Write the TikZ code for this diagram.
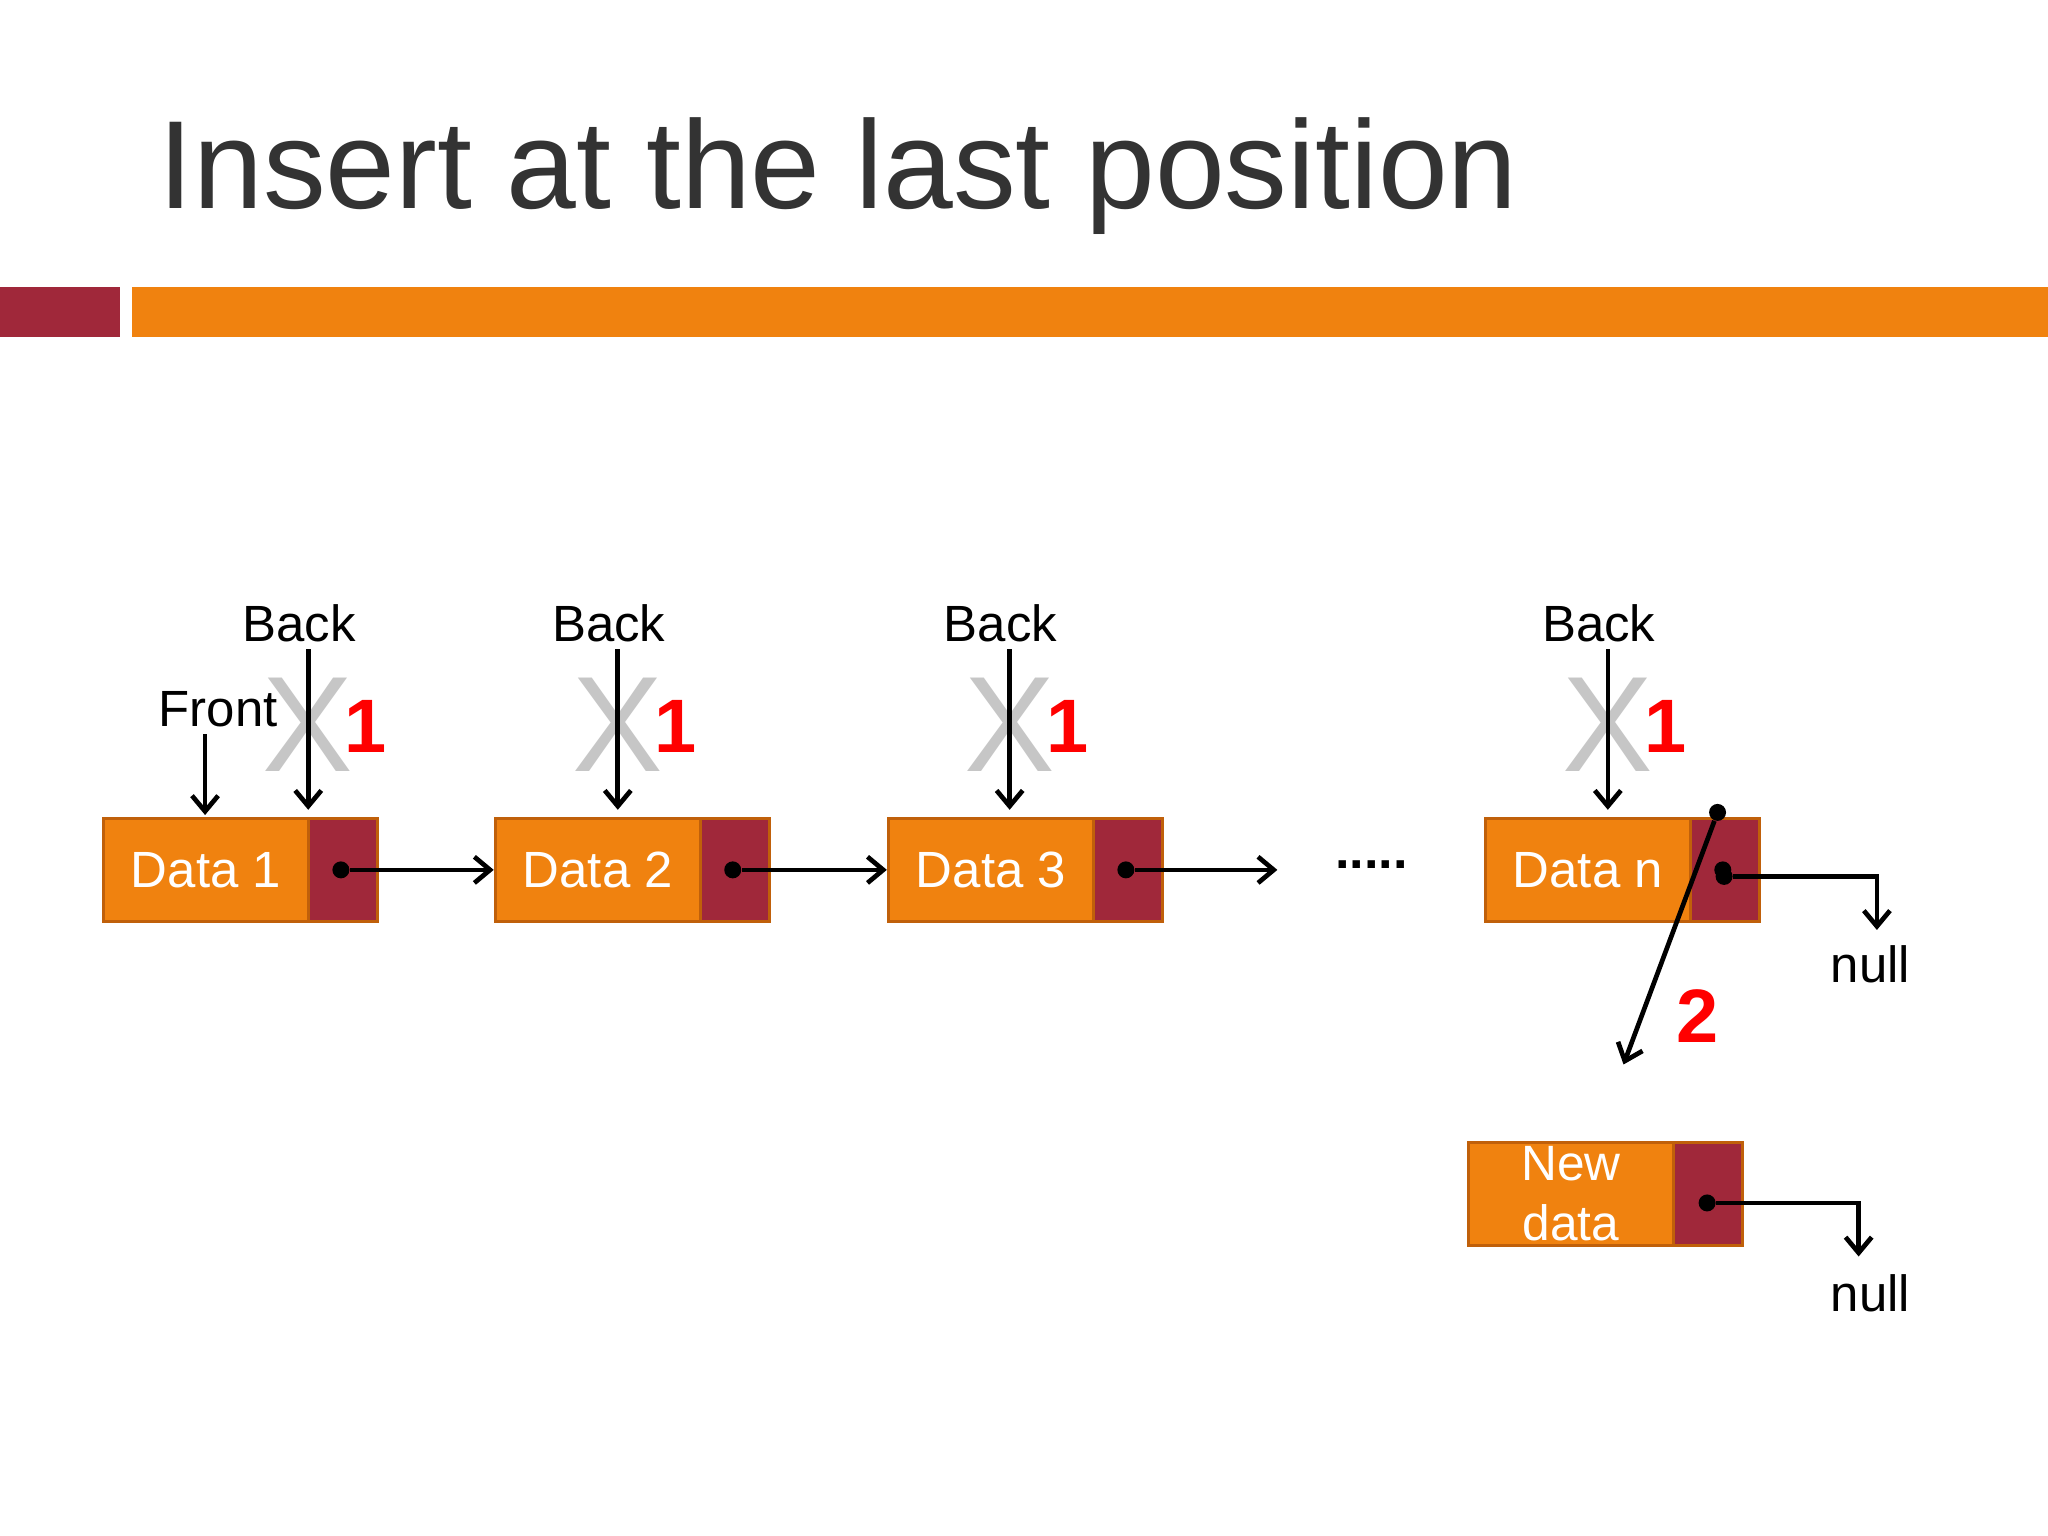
\documentclass[tikz,border=0pt]{standalone}
\usepackage{fontspec}
\setmainfont{Liberation Sans}
\usetikzlibrary{arrows.meta}
\definecolor{org}{HTML}{F0820F}
\definecolor{wine}{HTML}{A0283A}
\definecolor{edge}{HTML}{C0600A}
\definecolor{ttl}{HTML}{333333}
\tikzset{
 databox/.style={draw=edge,line width=1.2pt,fill=org,minimum width=78.5pt,minimum height=39.5pt,inner sep=0pt,text=white,font=\fontsize{19.5}{23}\selectfont,anchor=west},
 ptrbox/.style={draw=edge,line width=1.2pt,fill=wine,minimum width=26.5pt,minimum height=39.5pt,inner sep=0pt,anchor=west},
 link/.style={line width=1.8pt,-{Straight Barb[length=6pt,width=10pt,line width=1.8pt]}},
 dotc/.style={circle,fill=black,inner sep=0pt,minimum size=6.5pt},
 lbl/.style={font=\fontsize{19.5}{24}\selectfont},
 crossx/.style={text=gray!45,font=\fontsize{52}{56}\selectfont},
 one/.style={text=red,font=\bfseries\fontsize{29}{34}\selectfont},
}
\begin{document}
\begin{tikzpicture}[x=0.5pt,y=-0.5pt]
\useasboundingbox (0,0) rectangle (1568,1176);
\fill[white] (0,0) rectangle (1568,1176);
\node[anchor=base west,text=ttl,font=\fontsize{48}{54}\selectfont,inner sep=0pt] (title) at (121,160) {Insert at the last position};
\fill[wine] (0,220) rectangle (92,258);
\fill[org] (101,220) rectangle (1568,258);
% boxes
\foreach \n/\x/\t in {a/78/Data 1,b/378/Data 2,c/679/Data 3,d/1136/Data n}{
 \node[databox] (\n) at (\x,666) {\t};
 \node[ptrbox] (\n p) at (\x+157,666) {};
 \node[dotc] (\n d) at (\x+183,666) {};
}
\node[databox,align=center,font=\fontsize{19}{23}\selectfont] (e) at (1123,914) {New\\data};
\node[ptrbox] (ep) at (1280,914) {};
\node[dotc] (ed) at (1307,921) {};
\node[dotc] (dd2) at (1320,671) {};
\node[dotc] (top) at (1315,622) {};
\draw[link] (ad) -- (b.west);
\draw[link] (bd) -- (c.west);
\coordinate (cend) at (978,666);
\draw[link] (cd) -- (cend);
\node[lbl,font=\bfseries\fontsize{20}{24}\selectfont] (dots) at (1050,662) {.....};
\node[lbl] (n1) at (1432,738) {null};
\node[lbl] (n2) at (1432,990) {null};
\coordinate (c1) at (1437,671);
\coordinate (c2) at (1437,712);
\draw[link] (dd2) -- (c1) -- (c2);
\coordinate (c3) at (1423,921);
\coordinate (c4) at (1423,962);
\draw[link] (ed) -- (c3) -- (c4);
\coordinate (t2) at (1243,815);
\draw[link] (top) -- (t2);
\node[one] (two) at (1300,778) {2};
% front
\node[lbl] (front) at (167,543) {Front};
\coordinate (f1) at (157,562);
\coordinate (f2) at (157,624);
\draw[link] (f1) -- (f2);
% backs
\foreach \n/\x in {1/236,2/473,3/773,4/1231}{
 \node[crossx] (x\n) at (\x,555) {X};
 \node[lbl] (bk\n) at (\x-7,477) {Back};
 \coordinate (bs\n) at (\x,497);
 \coordinate (be\n) at (\x,620);
 \draw[link] (bs\n) -- (be\n);
 \node[one] (o\n) at (\x+44,556) {1};
}
\end{tikzpicture}
\end{document}
